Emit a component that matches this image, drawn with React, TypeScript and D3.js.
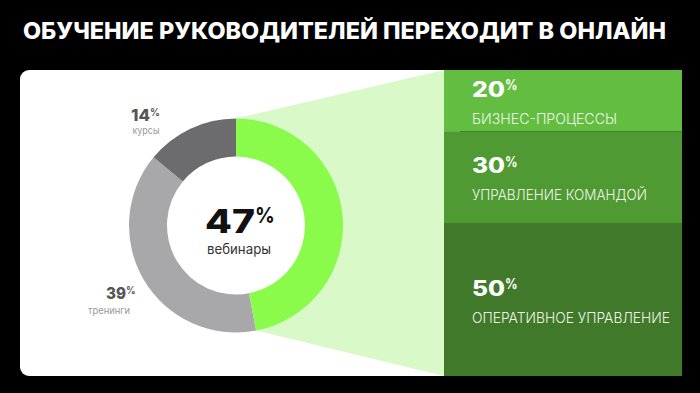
import React from 'react';
import * as d3 from 'd3';

const titleText = "ОБУЧЕНИЕ РУКОВОДИТЕЛЕЙ ПЕРЕХОДИТ В ОНЛАЙН";
const formatCategories = ["вебинары", "тренинги", "курсы"];
const formatValues = [47, 39, 14];
const topicCategories = ["БИЗНЕС-ПРОЦЕССЫ", "УПРАВЛЕНИЕ КОМАНДОЙ", "ОПЕРАТИВНОЕ УПРАВЛЕНИЕ"];
const topicValues = [20, 30, 50];

const formatColors = ["#8bfb4b", "#a8a8aa", "#6c6c6e"];
const topicColors = ["#63bd41", "#4f9a32", "#41792a"];

const W = 700;
const H = 393;
const FONT = "Inter, 'Open Sans', sans-serif";

type PctProps = { x: number; y: number; value: number; size: number; numW: number; color: string };
function Pct({ x, y, value, size, numW, color }: PctProps) {
  return (
    <g>
      <text x={x} y={y} fontSize={size} fontWeight={800} fill={color} fontFamily={FONT}
        textLength={numW} lengthAdjust="spacingAndGlyphs">{String(value)}</text>
      <text x={x + numW} y={y - size * 0.3} fontSize={size * 0.66} fontWeight={700} fill={color} fontFamily={FONT}
        textLength={size * 0.6} lengthAdjust="spacingAndGlyphs">%</text>
    </g>
  );
}

export default function App() {
  const panelX0 = 444, panelX1 = 682, top = 70, bottom = 376;
  const cx = 236, cy = 225.5, R = 107, r = 69;

  const pie = d3.pie<number>().sort(null).value(d => d)(formatValues);
  const arc = d3.arc<d3.PieArcDatum<number>>().innerRadius(r).outerRadius(R);

  const web = pie[0];
  const p0: [number, number] = [cx + R * Math.sin(web.startAngle), cy - R * Math.cos(web.startAngle)];
  const p1: [number, number] = [cx + R * Math.sin(web.endAngle), cy - R * Math.cos(web.endAngle)];
  const wedge = d3.line()([p0, [panelX0, top], [panelX0, bottom], p1]) + "Z";

  const total = d3.sum(topicValues);
  const y = d3.scaleLinear().domain([0, total]).range([top, bottom]);
  const cum = d3.cumsum(topicValues);
  const segs = topicValues.map((v, i) => ({ v, label: topicCategories[i], y0: y(cum[i] - v), y1: y(cum[i]) }));
  const labelW = [145, 175, 198];

  return (
    <svg width={W} height={H} style={{ position: 'fixed', left: 0, top: 0, background: '#000' }}>
      <rect x={0} y={0} width={W} height={H} fill="#000" />
      <text x={23} y={39} fontSize={23} fontWeight={800} fill="#fff" fontFamily={FONT}
        textLength={643} lengthAdjust="spacingAndGlyphs">{titleText}</text>

      <rect x={20} y={top} width={440} height={bottom - top} rx={9} fill="#fff" />

      <path d={wedge} fill="#d9f9c9" />

      <g transform={`translate(${cx},${cy})`}>
        <circle r={r} fill="#fff" />
        {pie.map((d, i) => (
          <path key={i} d={arc(d) || ''} fill={formatColors[i]} />
        ))}
      </g>

      {/* center label */}
      <Pct x={cx - 31} y={cy + 7} value={formatValues[0]} size={33} numW={50} color="#111" />
      <text x={cx + 3} y={cy + 28} fontSize={14} fill="#333" fontFamily={FONT} textAnchor="middle"
        textLength={64} lengthAdjust="spacingAndGlyphs">{formatCategories[0]}</text>

      {/* courses */}
      <Pct x={cx - 105} y={cy - 105} value={formatValues[2]} size={16.5} numW={19} color="#555" />
      <text x={cx - 90} y={cy - 92} fontSize={10.5} fill="#999" fontFamily={FONT} textAnchor="middle"
        textLength={27} lengthAdjust="spacingAndGlyphs">{formatCategories[2]}</text>

      {/* trainings */}
      <Pct x={cx - 130} y={cy + 73} value={formatValues[1]} size={16} numW={20} color="#555" />
      <text x={cx - 127} y={cy + 88} fontSize={10} fill="#999" fontFamily={FONT} textAnchor="middle"
        textLength={42} lengthAdjust="spacingAndGlyphs">{formatCategories[1]}</text>

      {/* right panel */}
      {segs.map((s, i) => {
        const c = (s.y0 + s.y1) / 2;
        return (
          <g key={i}>
            <rect x={panelX0} y={s.y0} width={panelX1 - panelX0} height={s.y1 - s.y0} fill={topicColors[i]} />
            <Pct x={472} y={c - 4} value={s.v} size={21} numW={33} color="#fff" />
            <text x={472} y={c + 23} fontSize={14.5} fontWeight={300} fill="#eef7e8" fontFamily={FONT}
              textLength={labelW[i]} lengthAdjust="spacingAndGlyphs">{s.label}</text>
          </g>
        );
      })}
    </svg>
  );
}
